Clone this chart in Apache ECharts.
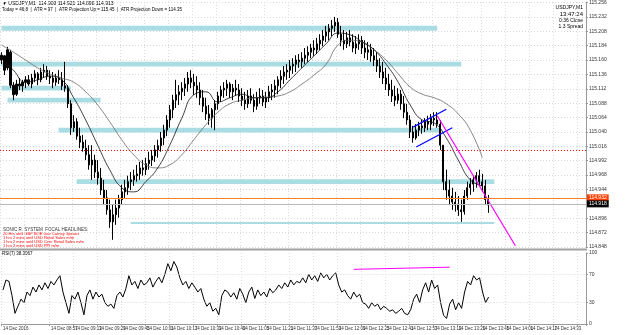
<!DOCTYPE html>
<html>
<head>
<meta charset="utf-8">
<script src="https://cdn.jsdelivr.net/npm/echarts@6/dist/echarts.min.js"></script>
<style>
  html, body { margin: 0; padding: 0; background: #fff; }
  #chart { width: 625px; height: 335px; }
</style>
</head>
<body>
<div id="chart"></div>
<script>
// price axis labels (right side)
const priceTicks = [114.848, 114.872, 114.896, 114.944, 114.968, 114.992, 115.016, 115.040,
  115.064, 115.088, 115.112, 115.136, 115.160, 115.184, 115.208, 115.232, 115.256]
const rsiTicks = [0, 30, 70, 100]

// 2 minute bars from 14 Dec 08:25: [open, close, low, high]
const bars = [
  [115.160,115.168,115.153,115.173],[115.167,115.143,115.135,115.168],[115.147,115.177,115.143,115.182],[115.173,115.118,115.113,115.177],
  [115.118,115.102,115.093,115.123],[115.103,115.120,115.100,115.127],[115.120,115.117,115.110,115.130],[115.117,115.123,115.107,115.127],
  [115.123,115.127,115.113,115.133],[115.127,115.120,115.117,115.135],[115.120,115.130,115.113,115.137],[115.130,115.137,115.123,115.143],
  [115.137,115.127,115.118,115.140],[115.127,115.140,115.123,115.147],[115.140,115.143,115.130,115.153],[115.143,115.133,115.127,115.150],
  [115.133,115.130,115.120,115.143],[115.130,115.123,115.113,115.140],[115.123,115.130,115.117,115.137],[115.130,115.127,115.120,115.143],
  [115.127,115.117,115.110,115.140],[115.117,115.113,115.107,115.157],[115.113,115.087,115.080,115.118],[115.087,115.047,115.035,115.093],
  [115.047,115.057,115.040,115.068],[115.057,115.033,115.027,115.063],[115.033,115.023,115.013,115.047],[115.023,115.013,115.007,115.035],
  [115.013,115.002,114.993,115.027],[115.002,114.985,114.977,115.018],[114.985,114.993,114.960,115.018],[114.993,114.973,114.963,115.002],
  [114.973,114.963,114.952,114.993],[114.963,114.943,114.935,114.980],[114.943,114.930,114.918,114.960],[114.930,114.910,114.902,114.943],
  [114.910,114.890,114.880,114.927],[114.890,114.902,114.860,114.918],[114.902,114.913,114.885,114.927],[114.913,114.927,114.897,114.935],
  [114.927,114.940,114.918,114.952],[114.940,114.947,114.930,114.960],[114.947,114.957,114.935,114.967],[114.957,114.960,114.943,114.973],
  [114.960,114.967,114.950,114.977],[114.967,114.970,114.957,114.985],[114.970,114.980,114.960,114.990],[114.980,114.977,114.967,114.993],
  [114.977,114.987,114.968,114.997],[114.987,114.993,114.977,115.007],[114.993,115.000,114.983,115.010],[115.000,115.010,114.990,115.018],
  [115.010,115.017,114.997,115.027],[115.017,115.030,115.007,115.040],[115.030,115.043,115.018,115.052],[115.043,115.060,115.033,115.068],
  [115.060,115.077,115.047,115.085],[115.077,115.093,115.063,115.102],[115.093,115.102,115.080,115.127],[115.102,115.107,115.085,115.118],
  [115.107,115.113,115.093,115.123],[115.113,115.120,115.100,115.130],[115.120,115.130,115.107,115.140],[115.130,115.123,115.113,115.143],
  [115.123,115.117,115.102,115.137],[115.117,115.110,115.097,115.133],[115.110,115.097,115.085,115.123],[115.097,115.083,115.073,115.110],
  [115.083,115.070,115.060,115.097],[115.070,115.063,115.052,115.085],[115.063,115.077,115.047,115.080],[115.077,115.087,115.043,115.093],
  [115.087,115.100,115.077,115.107],[115.100,115.110,115.090,115.117],[115.110,115.113,115.097,115.123],[115.113,115.120,115.100,115.127],
  [115.120,115.107,115.097,115.123],[115.107,115.113,115.093,115.120],[115.113,115.110,115.100,115.127],[115.110,115.100,115.090,115.120],
  [115.100,115.093,115.083,115.113],[115.093,115.087,115.077,115.107],[115.087,115.100,115.080,115.110],[115.100,115.093,115.087,115.113],
  [115.093,115.083,115.073,115.103],[115.083,115.097,115.077,115.107],[115.097,115.100,115.087,115.113],[115.100,115.090,115.083,115.110],
  [115.090,115.097,115.080,115.107],[115.097,115.107,115.090,115.117],[115.107,115.110,115.093,115.120],[115.110,115.117,115.097,115.127],
  [115.117,115.127,115.103,115.133],[115.127,115.133,115.113,115.143],[115.133,115.140,115.120,115.150],[115.140,115.143,115.127,115.153],
  [115.143,115.150,115.130,115.160],[115.150,115.153,115.137,115.163],[115.153,115.160,115.140,115.168],[115.160,115.157,115.147,115.170],
  [115.157,115.163,115.147,115.173],[115.163,115.168,115.153,115.180],[115.168,115.173,115.157,115.183],[115.173,115.180,115.163,115.187],
  [115.180,115.177,115.167,115.193],[115.177,115.187,115.170,115.197],[115.187,115.193,115.177,115.203],[115.193,115.200,115.183,115.210],
  [115.200,115.207,115.190,115.217],[115.207,115.213,115.193,115.220],[115.213,115.217,115.200,115.227],[115.217,115.223,115.207,115.232],
  [115.223,115.203,115.197,115.230],[115.203,115.193,115.183,115.217],[115.193,115.187,115.177,115.210],[115.187,115.197,115.180,115.207],
  [115.197,115.190,115.183,115.210],[115.190,115.180,115.173,115.203],[115.180,115.187,115.170,115.200],[115.187,115.193,115.177,115.203],
  [115.193,115.180,115.170,115.200],[115.180,115.173,115.163,115.193],[115.173,115.177,115.160,115.190],[115.177,115.167,115.157,115.187],
  [115.167,115.160,115.150,115.180],[115.160,115.150,115.140,115.173],[115.150,115.140,115.130,115.163],[115.140,115.130,115.120,115.157],
  [115.130,115.120,115.110,115.147],[115.120,115.110,115.100,115.137],[115.110,115.100,115.090,115.127],[115.100,115.093,115.083,115.117],
  [115.093,115.103,115.087,115.113],[115.103,115.087,115.077,115.110],[115.087,115.073,115.063,115.100],[115.073,115.060,115.052,115.087],
  [115.060,115.040,115.030,115.068],[115.040,115.030,115.022,115.050],[115.030,115.043,115.027,115.053],[115.043,115.050,115.033,115.057],
  [115.050,115.047,115.037,115.060],[115.047,115.057,115.040,115.063],[115.057,115.053,115.043,115.067],[115.053,115.063,115.043,115.070],
  [115.063,115.060,115.050,115.073],[115.060,115.053,115.047,115.073],[115.053,115.018,115.010,115.060],[115.018,114.957,114.943,115.018],
  [114.957,114.943,114.927,114.977],[114.943,114.933,114.918,114.960],[114.933,114.923,114.910,114.947],[114.923,114.918,114.907,114.940],
  [114.918,114.910,114.900,114.933],[114.910,114.907,114.890,114.927],[114.907,114.933,114.902,114.943],[114.933,114.947,114.927,114.957],
  [114.947,114.953,114.935,114.963],[114.953,114.960,114.940,114.967],[114.960,114.967,114.947,114.973],[114.967,114.957,114.950,114.977],
  [114.957,114.950,114.940,114.970],[114.950,114.927,114.918,114.960],[114.927,114.918,114.905,114.935]
]

// moving averages read every 8 minutes (slot, price)
const maSlots = [0,4,8,12,16,20,24,28,32,36,40,44,48,52,56,60,64,68,72,76,80,84,88,92,96,100,104,108,112,116,120,124,128,132,136,140,144,148,152,156,160]
const maFast = [115.163,115.143,115.123,115.127,115.133,115.127,115.097,115.060,115.018,114.977,114.947,114.940,114.957,114.980,115.018,115.063,115.102,115.107,115.090,115.097,
  115.103,115.097,115.097,115.107,115.127,115.147,115.167,115.187,115.205,115.202,115.190,115.177,115.153,115.123,115.085,115.060,115.055,115.030,114.993,114.960,114.950]
const maSlow = [115.185,115.173,115.160,115.147,115.137,115.130,115.123,115.107,115.085,115.057,115.027,115.002,114.985,114.980,114.985,115.002,115.027,115.052,115.073,115.087,
  115.093,115.097,115.098,115.100,115.107,115.120,115.135,115.153,115.185,115.193,115.190,115.177,115.160,115.137,115.115,115.103,115.097,115.087,115.070,115.043,114.997]

// RSI(7), one value per 2 minute bar
const rsi = [48,62,60,40, 15,25,35, 30,45,40, 52,45,55,48,58,50,60,55,62, 68, 45,30,15, 40,35,45,30,13,
  40,48,35,45,38,42, 30,25,28,22, 40,45,38,50, 68, 55,60,50,62,55,58,65,52,60,66,58,70, 85,75,88,80,
  65,55,60,50,58,52,45,50, 35,25,30,18,22,13, 40,48,45,38,44, 35,50,42,30,45,52,36,48,40,
  45,38,50,44,48,55,50, 58,52,62,55,60,58, 65,58,70,62,68,60,72,65,70,62,68, 72,55,45,48,40,
  35,45,38,42, 30,28,22,30,25, 28,20,25,22,18, 20,15,18,22,15,13,20, 35,42,30, 48,58,45,62,50,55,
  30,12,8, 28,35,20,30,22, 45,60,55,68,62,65, 45,30,38]

// support / resistance zones: [fromSlot, toSlot, price]
const zones = [
  [0, 145, 115.213],
  [0, 153, 115.153],
  [0, 23, 115.113],
  [2, 33, 115.093],
  [19, 146, 115.043],
  [25, 164, 114.957]
]
const thinZone = [43, 164, 114.888]

// flag channel and trend lines: [slot, value]
const flagUpper = [[136.7, 115.048], [148.2, 115.078]]
const flagLower = [[138.2, 115.015], [150.1, 115.047]]
const trendLine = [[144.5, 115.067], [171.2, 114.850]]
const rsiTrend = [[116.8, 77], [148.5, 80]]

const roundLevel = 115.006 // red dotted
const askLevel = 114.932
const bidLevel = 114.918
const bidLine = 114.925

var myChart = echarts.init(document.getElementById('chart'))

// 2 minute slots from 08:25
let categories = []
for (let i = 0; i < 195; i++) {
  let m = 8 * 60 + 25 + 2 * i
  let hh = String(Math.floor(m / 60)).padStart(2, '0')
  let mm = String(m % 60).padStart(2, '0')
  categories.push(i === 0 ? '14 Dec 2016' : '14 Dec ' + hh + ':' + mm)
}

const gridColor = '#d8d8d8'
const labelFont = { fontFamily: 'Liberation Sans', fontSize: 5, color: '#333' }
const every8 = i => i % 8 === 0

let zoneData = zones.map(z => [
  { xAxis: z[0], yAxis: z[2] + 0.004 },
  { xAxis: z[1], yAxis: z[2] - 0.004 }
])

let option = {
  backgroundColor: '#fff',
  animation: false,
  grid: [
    { left: 0, width: 586, top: 2, height: 245 },
    { left: 0, width: 586, top: 253, height: 71 }
  ],
  xAxis: [
    {
      type: 'category', gridIndex: 0, data: categories, boundaryGap: true,
      axisLine: { show: false }, axisTick: { show: false }, axisLabel: { show: false },
      splitLine: { show: true, interval: every8, lineStyle: { color: gridColor, type: [1, 2] } }
    },
    {
      type: 'category', gridIndex: 1, data: categories, boundaryGap: true,
      axisLine: { show: true, lineStyle: { color: '#999' } },
      axisTick: { show: true, interval: every8, length: 2, lineStyle: { color: '#999' } },
      axisLabel: Object.assign({ interval: every8, margin: 2, align: 'left', showMinLabel: true, hideOverlap: false }, labelFont, { fontSize: 4.5 }),
      splitLine: { show: true, interval: every8, lineStyle: { color: gridColor, type: [1, 2] } }
    }
  ],
  yAxis: [
    {
      type: 'value', gridIndex: 0, position: 'right', min: 114.848, max: 115.2567, scale: true,
      axisLine: { show: true, lineStyle: { color: '#999' } },
      axisTick: { show: true, length: 2, customValues: priceTicks },
      axisLabel: Object.assign({ margin: 3, customValues: priceTicks, formatter: v => v.toFixed(3) }, labelFont),
      splitLine: { show: true, lineStyle: { color: gridColor, type: [1, 2] } }
    },
    {
      type: 'value', gridIndex: 1, position: 'right', min: 0, max: 100,
      axisLine: { show: true, lineStyle: { color: '#999' } },
      axisTick: { show: true, length: 2, customValues: rsiTicks },
      axisLabel: Object.assign({ margin: 3, customValues: rsiTicks }, labelFont),
      splitLine: { show: false }
    }
  ],
  series: [
    {
      name: 'zones', type: 'line', xAxisIndex: 0, yAxisIndex: 0, data: [], silent: true,
      markArea: { silent: true, itemStyle: { color: '#a9dde3' }, data: zoneData },
      markLine: {
        silent: true, symbol: 'none', label: { show: false },
        data: [
          { yAxis: roundLevel, lineStyle: { color: '#ff0000', type: [1, 2], width: 1 } },
          { yAxis: bidLine, lineStyle: { color: '#b8b8b8', type: 'solid', width: 1 } },
          { yAxis: askLevel, lineStyle: { color: '#ff7f27', type: 'solid', width: 1 },
            label: { show: true, position: 'end', formatter: askLevel.toFixed(3), distance: 1,
              backgroundColor: '#ff4000', color: '#fff', fontSize: 5, padding: [1, 2] } },
          { yAxis: bidLevel, lineStyle: { color: 'rgba(0,0,0,0)', width: 1 },
            label: { show: true, position: 'end', formatter: bidLevel.toFixed(3), distance: 1,
              backgroundColor: '#000', color: '#fff', fontSize: 5, padding: [1, 2] } },
          [{ xAxis: thinZone[0], yAxis: thinZone[2], lineStyle: { color: '#a9dde3', width: 2, type: 'solid' } },
           { xAxis: thinZone[1], yAxis: thinZone[2] }]
        ]
      }
    },
    {
      name: 'USDJPY', type: 'candlestick', xAxisIndex: 0, yAxisIndex: 0, data: bars, barWidth: 1.6,
      itemStyle: { color: '#000', color0: '#000', borderColor: '#000', borderColor0: '#000', borderWidth: 1 }
    },
    {
      name: 'maSlow', type: 'line', xAxisIndex: 0, yAxisIndex: 0, smooth: true, showSymbol: false,
      data: maSlots.map((s, k) => [s, maSlow[k]]), lineStyle: { color: '#666', width: 0.8 }
    },
    {
      name: 'maFast', type: 'line', xAxisIndex: 0, yAxisIndex: 0, smooth: true, showSymbol: false,
      data: maSlots.map((s, k) => [s, maFast[k]]), lineStyle: { color: '#111', width: 0.8 }
    },
    {
      name: 'flagUpper', type: 'line', xAxisIndex: 0, yAxisIndex: 0, showSymbol: false,
      data: flagUpper, lineStyle: { color: '#0000ff', width: 1.2 }
    },
    {
      name: 'flagLower', type: 'line', xAxisIndex: 0, yAxisIndex: 0, showSymbol: false,
      data: flagLower, lineStyle: { color: '#0000ff', width: 1.2 }
    },
    {
      name: 'trend', type: 'line', xAxisIndex: 0, yAxisIndex: 0, showSymbol: false,
      data: trendLine, lineStyle: { color: '#ff00ff', width: 1.2 }
    },
    {
      name: 'RSI', type: 'line', xAxisIndex: 1, yAxisIndex: 1, showSymbol: false,
      data: rsi, lineStyle: { color: '#000', width: 1 },
      markLine: {
        silent: true, symbol: 'none', label: { show: false },
        lineStyle: { color: gridColor, type: [1, 2], width: 1 },
        data: [{ yAxis: 70 }, { yAxis: 30 }]
      }
    },
    {
      name: 'rsiTrend', type: 'line', xAxisIndex: 1, yAxisIndex: 1, showSymbol: false,
      data: rsiTrend, lineStyle: { color: '#ff00ff', width: 1 }
    }
  ],
  graphic: [
    { type: 'rect', shape: { x: 0, y: 248.5, width: 587, height: 2 }, style: { fill: '#a0a0a0' } },
    { type: 'text', left: 2, top: 1, style: { text: '\u25bc USDJPY,M1  114.908 114.921 114.898 114.913', font: '5px Liberation Sans', fill: '#000' } },
    { type: 'text', left: 2, top: 7, style: { text: 'Today = 46.8  |  ATR = 97  |  ATR Projection Up = 115.45  |  ATR Projection Down = 114.35', font: '4.5px Liberation Sans', fill: '#000' } },
    { type: 'text', right: 42, top: 5, style: { text: 'USDJPY,M1', font: '5px Liberation Sans', fill: '#000', align: 'right' } },
    { type: 'text', right: 42, top: 11, style: { text: '13:47:24', font: '6px Liberation Sans', fill: '#000', align: 'right' } },
    { type: 'text', right: 42, top: 18, style: { text: '0:36 Close', font: '5px Liberation Sans', fill: '#000', align: 'right' } },
    { type: 'text', right: 42, top: 24, style: { text: '1.3 Spread', font: '5px Liberation Sans', fill: '#000', align: 'right' } },
    { type: 'text', left: 3, top: 227, style: { text: 'SONIC R. SYSTEM  FOCAL HEADLINES:', font: '4.5px Liberation Sans', fill: '#333' } },
    { type: 'text', left: 3, top: 232, style: { text: '20 Hrs until GBP BOE Gov Carney Speaks', font: '4px Liberation Sans', fill: '#ff0000' } },
    { type: 'text', left: 3, top: 236, style: { text: '1 hrs 2 mins until USD Retail Sales m/m', font: '4px Liberation Sans', fill: '#ff0000' } },
    { type: 'text', left: 3, top: 240, style: { text: '1 hrs 2 mins until USD Core Retail Sales m/m', font: '4px Liberation Sans', fill: '#ff0000' } },
    { type: 'text', left: 3, top: 244, style: { text: '1 hrs 2 mins until USD PPI m/m', font: '4px Liberation Sans', fill: '#ff0000' } },
    { type: 'text', left: 2, top: 251, style: { text: 'RSI(7) 38.3067', font: '4.5px Liberation Sans', fill: '#000' } }
  ]
}
myChart.setOption(option)
</script>
</body>
</html>
